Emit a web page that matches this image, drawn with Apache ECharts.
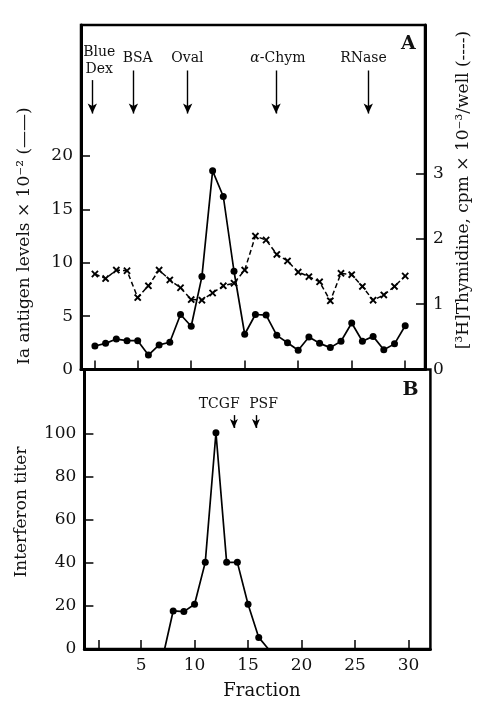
<!DOCTYPE html>
<html>
<head>
<meta charset="utf-8">
<script src="https://cdn.jsdelivr.net/npm/echarts@6/dist/echarts.min.js"></script>
<style>
  html, body { margin: 0; padding: 0; background: #fff; }
  #chart { width: 479px; height: 709px; }
</style>
</head>
<body>
<div id="chart"></div>
<script>
// fractions 1..30, panel A
const fractions = [1, 2, 3, 4, 5, 6, 7, 8, 9, 10, 11, 12, 13, 14, 15,
  16, 17, 18, 19, 20, 21, 22, 23, 24, 25, 26, 27, 28, 29, 30];
const iaLevels = [2.2, 2.45, 2.85, 2.7, 2.7, 1.35, 2.3, 2.55, 5.15, 4.05, 8.7, 18.6, 16.2, 9.2, 3.3,
  5.15, 5.1, 3.2, 2.5, 1.8, 3.05, 2.45, 2.05, 2.65, 4.35, 2.65, 3.1, 1.85, 2.4, 4.1];
const thymidine = [1.46, 1.39, 1.52, 1.51, 1.1, 1.28, 1.52, 1.37, 1.25, 1.07, 1.06, 1.17, 1.28, 1.32, 1.52,
  2.04, 1.98, 1.76, 1.66, 1.49, 1.42, 1.34, 1.05, 1.47, 1.45, 1.27, 1.06, 1.14, 1.27, 1.43];

// panel B
const ifnFractions = [7.2, 8, 9, 10, 11, 12, 13, 14, 15, 16, 16.9];
const ifnTiter = [0, 17.7, 17.4, 20.8, 40.3, 100.6, 40.3, 40.3, 20.8, 5.4, 0];

// ticks
const fracTicks = [1, 5, 10, 15, 20, 25, 30];
const fracLabels = [5, 10, 15, 20, 25, 30];
const iaTicks = [0, 5, 10, 15, 20];
const thyTicks = [0, 1, 2, 3];
const ifnTicks = [0, 20, 40, 60, 80, 100];

// marker proteins (panel A) and factors (panel B)
const markerNames = ['Blue\nDex', 'BSA', 'Oval', '{i|α}-Chym', 'RNase'];
const markerLabelAt = [1.4, 5.0, 9.65, 18.1, 26.1];
const markerArrowAt = [0.76, 4.6, 9.67, 17.93, 26.55];
const markerArrowTop = [27.1, 28.0, 28.0, 28.0, 28.0];
const factorNames = ['TCGF', 'PSF'];
const factorLabelAt = [12.3, 16.45];
const factorArrowAt = [13.68, 15.74];

const FONT = "'DejaVu Serif', 'Liberation Serif', serif";
const INK = '#111';

// small bold "x" marker
const xSym = 'path://M0,1.8L1.8,0L5,3.2L8.2,0L10,1.8L6.8,5L10,8.2L8.2,10L5,6.8L1.8,10L0,8.2L3.2,5Z';

function axisBase(ticks, labels, showLabel) {
  return {
    type: 'value',
    axisLine: { show: true, onZero: false, lineStyle: { color: '#000', width: 3 } },
    axisTick: { show: true, inside: true, length: 9, customValues: ticks, lineStyle: { color: '#000', width: 1.5 } },
    axisLabel: { show: showLabel, customValues: labels, margin: 8, color: INK, fontFamily: FONT, fontSize: 17 },
    splitLine: { show: false }
  };
}

const chart = echarts.init(document.getElementById('chart'));

const option = {
  backgroundColor: '#fff',
  animation: false,
  grid: [
    { left: 81, top: 25, width: 344, height: 344.5, show: true, borderColor: '#000', borderWidth: 2.5 },
    { left: 84.4, top: 369.5, width: 346, height: 279.5, show: true, borderColor: '#000', borderWidth: 2.5 }
  ],
  xAxis: [
    Object.assign(axisBase(fracTicks, fracLabels, false), { gridIndex: 0, min: -0.3, max: 31.85 }),
    Object.assign(axisBase(fracTicks, fracLabels, true), { gridIndex: 1, min: -0.3, max: 32.05 })
  ],
  yAxis: [
    Object.assign(axisBase(iaTicks, iaTicks, true), { gridIndex: 0, min: 0, max: 32.26, position: 'left' }),
    Object.assign(axisBase(thyTicks, thyTicks, true), { gridIndex: 0, min: 0, max: 5.268, position: 'right' }),
    Object.assign(axisBase(ifnTicks, ifnTicks, true), { gridIndex: 1, min: 0, max: 130, position: 'left' })
  ],
  series: [
    {
      name: 'Ia antigen',
      type: 'line',
      xAxisIndex: 0,
      yAxisIndex: 0,
      data: fractions.map((f, i) => [f, iaLevels[i]]),
      symbol: 'circle',
      symbolSize: 7,
      itemStyle: { color: '#000' },
      lineStyle: { color: '#000', width: 1.7 },
      z: 3,
      markLine: {
        silent: true,
        symbol: ['none', 'arrow'],
        symbolSize: [7, 10],
        label: { show: false },
        lineStyle: { color: '#000', width: 1.4, type: 'solid' },
        data: markerArrowAt.map((x, i) => [{ coord: [x, markerArrowTop[i]] }, { coord: [x, 23.97] }])
      },
      markPoint: {
        silent: true,
        symbol: 'circle',
        symbolSize: 0,
        label: {
          show: true, position: 'inside', color: INK, fontFamily: FONT, fontSize: 14, lineHeight: 17,
          formatter: p => p.name,
          rich: { i: { fontStyle: 'italic', fontFamily: FONT, fontSize: 14, color: INK } }
        },
        data: markerNames.map((n, i) => ({ name: n, coord: [markerLabelAt[i], i === 0 ? 28.9 : 29.15] }))
          .concat([{ name: 'A', coord: [30.3, 30.5], label: { fontWeight: 'bold', fontSize: 19 } }])
      }
    },
    {
      name: 'Thymidine',
      type: 'line',
      xAxisIndex: 0,
      yAxisIndex: 1,
      data: fractions.map((f, i) => [f, thymidine[i]]),
      symbol: xSym,
      symbolSize: 7.5,
      itemStyle: { color: '#000' },
      lineStyle: { color: '#000', width: 1.5, type: [5, 3] }
    },
    {
      name: 'Interferon',
      type: 'line',
      xAxisIndex: 1,
      yAxisIndex: 2,
      data: ifnFractions.map((f, i) => ({
        value: [f, ifnTiter[i]],
        symbol: (i === 0 || i === ifnFractions.length - 1) ? 'none' : 'circle'
      })),
      symbol: 'circle',
      symbolSize: 7,
      itemStyle: { color: '#000' },
      lineStyle: { color: '#000', width: 1.7 },
      markLine: {
        silent: true,
        symbol: ['none', 'arrow'],
        symbolSize: [6, 9],
        label: { show: false },
        lineStyle: { color: '#000', width: 1.4, type: 'solid' },
        data: factorArrowAt.map(x => [{ coord: [x, 108.8] }, { coord: [x, 102.8] }])
      },
      markPoint: {
        silent: true,
        symbol: 'circle',
        symbolSize: 0,
        label: { show: true, position: 'inside', color: INK, fontFamily: FONT, fontSize: 14, formatter: p => p.name },
        data: factorNames.map((n, i) => ({ name: n, coord: [factorLabelAt[i], 114] }))
          .concat([{ name: 'B', coord: [30.2, 120.5], label: { fontWeight: 'bold', fontSize: 19 } }])
      }
    }
  ],
  graphic: [
    { type: 'text', x: 25, y: 236, rotation: Math.PI / 2,
      style: { text: 'Ia antigen levels × 10⁻² (——)', font: '17px ' + FONT, fill: INK,
        align: 'center', verticalAlign: 'middle', textAlign: 'center', textVerticalAlign: 'middle' } },
    { type: 'text', x: 464, y: 190, rotation: Math.PI / 2,
      style: { text: '[³H]Thymidine, cpm × 10⁻³/well (----)', font: '17px ' + FONT, fill: INK,
        align: 'center', verticalAlign: 'middle', textAlign: 'center', textVerticalAlign: 'middle' } },
    { type: 'text', x: 22, y: 512, rotation: Math.PI / 2,
      style: { text: 'Interferon titer', font: '17px ' + FONT, fill: INK,
        align: 'center', verticalAlign: 'middle', textAlign: 'center', textVerticalAlign: 'middle' } },
    { type: 'text', x: 262, y: 691,
      style: { text: 'Fraction', font: '18px ' + FONT, fill: INK,
        align: 'center', verticalAlign: 'middle', textAlign: 'center', textVerticalAlign: 'middle' } }
  ]
};

chart.setOption(option);
</script>
</body>
</html>
